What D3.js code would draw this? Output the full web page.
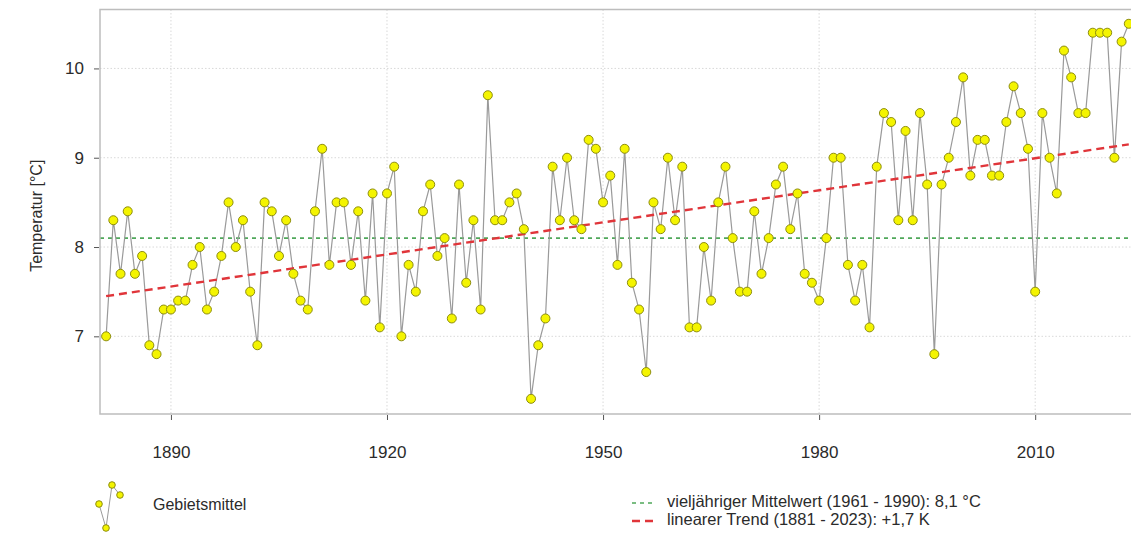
<!DOCTYPE html>
<html>
<head>
<meta charset="utf-8">
<script src="https://cdn.jsdelivr.net/npm/d3@7"></script>
<style>
  html, body { margin: 0; padding: 0; background: #fff; }
  svg { display: block; font-family: "Liberation Sans", Arial, sans-serif; }
</style>
</head>
<body>
<svg id="chart" width="1131" height="534"></svg>
<script>
// ---- data ----
const firstYear = 1881;
const temps = [
  7.0, 8.3, 7.7, 8.4, 7.7, 7.9, 6.9, 6.8, 7.3, 7.3,   // 1881-1890
  7.4, 7.4, 7.8, 8.0, 7.3, 7.5, 7.9, 8.5, 8.0, 8.3,   // 1891-1900
  7.5, 6.9, 8.5, 8.4, 7.9, 8.3, 7.7, 7.4, 7.3, 8.4,   // 1901-1910
  9.1, 7.8, 8.5, 8.5, 7.8, 8.4, 7.4, 8.6, 7.1, 8.6,   // 1911-1920
  8.9, 7.0, 7.8, 7.5, 8.4, 8.7, 7.9, 8.1, 7.2, 8.7,   // 1921-1930
  7.6, 8.3, 7.3, 9.7, 8.3, 8.3, 8.5, 8.6, 8.2, 6.3,   // 1931-1940
  6.9, 7.2, 8.9, 8.3, 9.0, 8.3, 8.2, 9.2, 9.1, 8.5,   // 1941-1950
  8.8, 7.8, 9.1, 7.6, 7.3, 6.6, 8.5, 8.2, 9.0, 8.3,   // 1951-1960
  8.9, 7.1, 7.1, 8.0, 7.4, 8.5, 8.9, 8.1, 7.5, 7.5,   // 1961-1970
  8.4, 7.7, 8.1, 8.7, 8.9, 8.2, 8.6, 7.7, 7.6, 7.4,   // 1971-1980
  8.1, 9.0, 9.0, 7.8, 7.4, 7.8, 7.1, 8.9, 9.5, 9.4,   // 1981-1990
  8.3, 9.3, 8.3, 9.5, 8.7, 6.8, 8.7, 9.0, 9.4, 9.9,   // 1991-2000
  8.8, 9.2, 9.2, 8.8, 8.8, 9.4, 9.8, 9.5, 9.1, 7.5,   // 2001-2010
  9.5, 9.0, 8.6, 10.2, 9.9, 9.5, 9.5, 10.4, 10.4, 10.4, // 2011-2020
  9.0, 10.3, 10.5                                      // 2021-2023
];
const years = temps.map((_, i) => firstYear + i);
const meanValue = 8.1;                 // vieljähriger Mittelwert 1961-1990
const trendYears = [1881, 2023];
const trendValues = [7.45, 9.15];      // linearer Trend endpoints
const xTicks = [1890, 1920, 1950, 1980, 2010];
const yTicks = [7, 8, 9, 10];
const yTitle = "Temperatur [°C]";
const legendSeries = "Gebietsmittel";
const legendMean = "vieljähriger Mittelwert (1961 - 1990): 8,1 °C";
const legendTrend = "linearer Trend (1881 - 2023): +1,7 K";

// ---- layout ----
const svg = d3.select("#chart");
const L = 100, R = 1136, T = 9.5, B = 414;
const x = d3.scaleLinear().domain([1880.15, 2024.0]).range([L, R]);
const y = d3.scaleLinear().domain([6.13, 10.66]).range([B, T]);
const txt = "#2b2b2b";

// grid
const grid = svg.append("g");
grid.selectAll("line.gx").data(xTicks).join("line")
  .attr("x1", d => x(d)).attr("x2", d => x(d)).attr("y1", T).attr("y2", B)
  .attr("stroke", "#d9d9d9").attr("stroke-width", 1).attr("stroke-dasharray", "1.5,2");
grid.selectAll("line.gy").data(yTicks).join("line")
  .attr("x1", L).attr("x2", R).attr("y1", d => y(d)).attr("y2", d => y(d))
  .attr("stroke", "#d9d9d9").attr("stroke-width", 1).attr("stroke-dasharray", "1.5,2");

// mean line
svg.append("line")
  .attr("x1", L).attr("x2", R).attr("y1", y(meanValue)).attr("y2", y(meanValue))
  .attr("stroke", "#4fa85a").attr("stroke-width", 1.6).attr("stroke-dasharray", "4,4");

// series line
svg.append("path")
  .datum(temps)
  .attr("fill", "none").attr("stroke", "#9a9a9a").attr("stroke-width", 1.2)
  .attr("d", d3.line().x((d, i) => x(years[i])).y(d => y(d)));

// trend line
svg.append("path")
  .datum(trendValues)
  .attr("fill", "none").attr("stroke", "#e0353a").attr("stroke-width", 2.4)
  .attr("stroke-dasharray", "8,5")
  .attr("d", d3.line().x((d, i) => x(trendYears[i])).y(d => y(d)));

// points
svg.append("g").selectAll("circle").data(temps).join("circle")
  .attr("cx", (d, i) => x(years[i])).attr("cy", d => y(d)).attr("r", 4.5)
  .attr("fill", "#f4f400").attr("stroke", "#8d8d10").attr("stroke-width", 1);

// frame
svg.append("rect").attr("x", L).attr("y", T).attr("width", R - L).attr("height", B - T)
  .attr("fill", "none").attr("stroke", "#bdbdbd").attr("stroke-width", 1.5);

// axes
const yAxis = d3.axisLeft(y).tickValues(yTicks).tickSize(5).tickPadding(10).tickFormat(d3.format("d"));
const gy = svg.append("g").attr("transform", `translate(${L - 1},0)`).call(yAxis);
gy.select(".domain").remove();
gy.selectAll(".tick line").attr("stroke", "#555");
gy.selectAll(".tick text").attr("font-size", 17).attr("fill", txt)
  .attr("font-family", "Liberation Sans, Arial, sans-serif");

const xAxis = d3.axisBottom(x).tickValues(xTicks).tickSize(5).tickPadding(26).tickFormat(d3.format("d"));
const gx = svg.append("g").attr("transform", `translate(0,${B + 1})`).call(xAxis);
gx.select(".domain").remove();
gx.selectAll(".tick line").attr("stroke", "#555");
gx.selectAll(".tick text").attr("font-size", 17).attr("fill", txt)
  .attr("font-family", "Liberation Sans, Arial, sans-serif");

// y title
svg.append("text")
  .attr("transform", `translate(38,${(T + B) / 2 + 4}) rotate(-90)`)
  .attr("text-anchor", "middle").attr("dominant-baseline", "middle")
  .attr("font-size", 16).attr("fill", txt).text(yTitle);

// legend: series icon
const iconPts = [[99, 504], [106, 528], [112, 485], [120, 495]];
const lg = svg.append("g");
lg.append("path").datum(iconPts)
  .attr("fill", "none").attr("stroke", "#9a9a9a").attr("stroke-width", 1)
  .attr("d", d3.line());
lg.selectAll("circle").data(iconPts).join("circle")
  .attr("cx", d => d[0]).attr("cy", d => d[1]).attr("r", 3.3)
  .attr("fill", "#f4f400").attr("stroke", "#8d8d10").attr("stroke-width", 1);
lg.append("text").attr("x", 153).attr("y", 506).attr("dominant-baseline", "middle")
  .attr("font-size", 16).attr("fill", txt).text(legendSeries);

// legend: mean and trend
lg.append("line").attr("x1", 632).attr("x2", 656).attr("y1", 503).attr("y2", 503)
  .attr("stroke", "#4fa85a").attr("stroke-width", 1.6).attr("stroke-dasharray", "4,4");
lg.append("text").attr("x", 667).attr("y", 503).attr("dominant-baseline", "middle")
  .attr("font-size", 16.5).attr("fill", txt).text(legendMean);
lg.append("line").attr("x1", 632).attr("x2", 656).attr("y1", 521).attr("y2", 521)
  .attr("stroke", "#e0353a").attr("stroke-width", 2.4).attr("stroke-dasharray", "8,5");
lg.append("text").attr("x", 667).attr("y", 521).attr("dominant-baseline", "middle")
  .attr("font-size", 16.5).attr("fill", txt).text(legendTrend);
</script>
</body>
</html>
